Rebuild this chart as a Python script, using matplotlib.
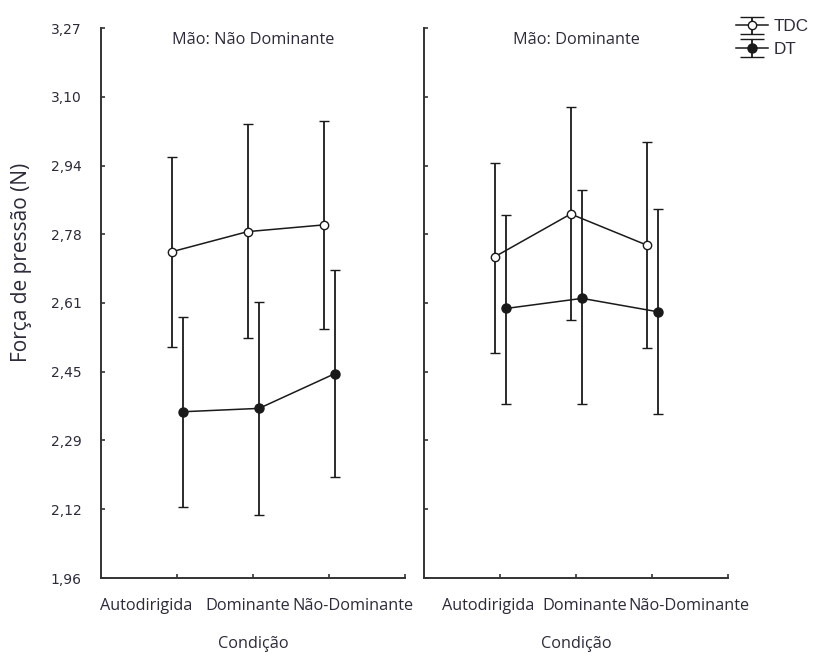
import numpy as np
import matplotlib
matplotlib.use("Agg")
import matplotlib.pyplot as plt
from matplotlib.legend_handler import HandlerErrorbar
from matplotlib.lines import Line2D

# ---- data ----
categories = ["Autodirigida", "Dominante", "Não-Dominante"]
panel_titles = ["Mão: Não Dominante", "Mão: Dominante"]
series_names = ["TDC", "DT"]

# Panel 1: Mão Não Dominante
tdc_nd_mean = [2.737, 2.785, 2.801]
tdc_nd_low = [2.511, 2.531, 2.554]
tdc_nd_high = [2.963, 3.041, 3.049]
dt_nd_mean = [2.356, 2.364, 2.447]
dt_nd_low = [2.128, 2.109, 2.201]
dt_nd_high = [2.581, 2.617, 2.694]

# Panel 2: Mão Dominante
tdc_d_mean = [2.725, 2.827, 2.753]
tdc_d_low = [2.497, 2.574, 2.508]
tdc_d_high = [2.949, 3.081, 2.999]
dt_d_mean = [2.602, 2.626, 2.594]
dt_d_low = [2.374, 2.374, 2.351]
dt_d_high = [2.825, 2.884, 2.840]

ytick_labels = ["1,96", "2,12", "2,29", "2,45", "2,61", "2,78", "2,94", "3,10", "3,27"]
ylim = (1.96, 3.27)

# ---- style ----
ink = "#1a1a1a"
spine_c = "#333333"
txt_c = "#2b2b3a"
lab_font = ["Open Sans", "DejaVu Sans"]
lab_size = 11.7


class WideCapHandler(HandlerErrorbar):
    def create_artists(self, legend, orig_handle, xdescent, ydescent, width, height,
                       fontsize, trans):
        arts = super().create_artists(legend, orig_handle, xdescent, ydescent, width,
                                      height, fontsize, trans)
        for a in arts:
            if isinstance(a, Line2D) and a.get_marker() == "_":
                a.set_markersize(width * 0.75)
        return arts


fig = plt.figure(figsize=(8.13, 6.55), dpi=100)
W, H = 813, 655
def ax_rect(x0, x1, y0, y1):
    return [x0 / W, 1 - y1 / H, (x1 - x0) / W, (y1 - y0) / H]

ax1 = fig.add_axes(ax_rect(101, 405, 28, 578))
ax2 = fig.add_axes(ax_rect(424, 728, 28, 578))

panels = [
    (ax1, (tdc_nd_mean, tdc_nd_low, tdc_nd_high), (dt_nd_mean, dt_nd_low, dt_nd_high),
     [-0.41, -0.07, 0.32]),
    (ax2, (tdc_d_mean, tdc_d_low, tdc_d_high), (dt_d_mean, dt_d_low, dt_d_high),
     [-0.16, 0.12, 0.48]),
]

x = np.arange(len(categories))
handles = []
for i, (ax, tdc, dt, lab_off) in enumerate(panels):
    for (mean, low, high), off, mfc, ms in [(tdc, -0.07, "white", 6.0), (dt, 0.08, ink, 6.5)]:
        mean = np.array(mean); low = np.array(low); high = np.array(high)
        h = ax.errorbar(x + off, mean, yerr=[mean - low, high - mean],
                        fmt="-o", color=ink, mfc=mfc, mec=ink, ms=ms, mew=1.0,
                        lw=1.1, elinewidth=1.3, capsize=3.3, capthick=1.3, zorder=3)
        if i == 0:
            handles.append(h)
    ax.set_xlim(-1, 3)
    ax.set_ylim(*ylim)
    for s in ["top", "right"]:
        ax.spines[s].set_visible(False)
    for s in ["left", "bottom"]:
        ax.spines[s].set_color(spine_c)
        ax.spines[s].set_linewidth(1.4)
    ax.set_xticks([0, 1, 2, 3])
    ax.set_xticklabels([])
    ax.tick_params(axis="x", direction="in", length=3, width=1.2, color=spine_c)
    ax.set_yticks(np.linspace(ylim[0], ylim[1], len(ytick_labels)))
    if i == 0:
        ax.set_yticklabels(ytick_labels, fontsize=10, color=txt_c, family="DejaVu Sans")
        ax.tick_params(axis="y", direction="in", length=3, width=1.2, color=spine_c, pad=14)
    else:
        ax.set_yticklabels([])
        ax.tick_params(axis="y", direction="in", length=3, width=1.2, color=spine_c)
    for xc, o, lab in zip(x, lab_off, categories):
        ax.text(xc + o, -0.05, lab, transform=ax.get_xaxis_transform(),
                ha="center", va="center", fontsize=lab_size, color=txt_c, family=lab_font)
    ax.text(0.5, -0.12, "Condição", transform=ax.transAxes, ha="center", va="center",
            fontsize=lab_size, color=txt_c, family=lab_font)
    ax.text(0.5, 0.978, panel_titles[i], transform=ax.transAxes, ha="center", va="center",
            fontsize=lab_size, color=txt_c, family=lab_font)

fig.text(22 / W, 1 - 262 / H, "Força de pressão (N)", rotation=90, ha="center", va="center",
         fontsize=15, color=txt_c, family=lab_font)

leg = fig.legend(handles, series_names, loc="upper right", bbox_to_anchor=(824 / W, 1 - 4 / H),
                 frameon=False, handlelength=1.9, handletextpad=0.3,
                 labelspacing=0.45, prop={"family": ["Liberation Sans"], "size": 12.3},
                 handler_map={type(handles[0]): WideCapHandler(yerr_size=0.52)})
for t in leg.get_texts():
    t.set_color(txt_c)

fig.savefig("out.png", dpi=100)
